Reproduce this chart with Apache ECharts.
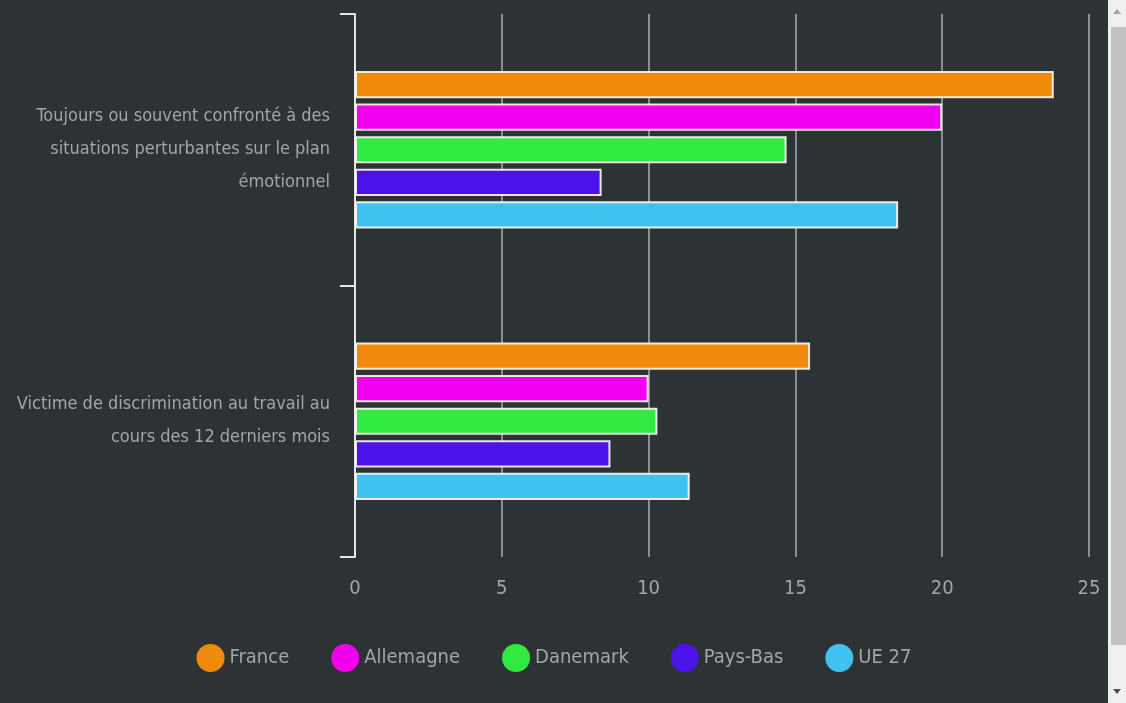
<!DOCTYPE html>
<html>
<head>
<meta charset="utf-8">
<script src="https://cdn.jsdelivr.net/npm/echarts@6/dist/echarts.min.js"></script>
<style>
html,body{margin:0;padding:0;background:#2d3235;overflow:hidden;}
#chart{position:absolute;left:0;top:0;width:1108px;height:703px;}
#sb{position:absolute;left:1108px;top:0;width:18px;height:703px;background:#f0f0f0;}
#thumb{position:absolute;left:3px;top:27px;width:15px;height:618px;background:#c1c1c1;}
.arr{position:absolute;left:5px;width:0;height:0;border-left:4px solid transparent;border-right:4px solid transparent;}
#up{top:9px;border-bottom:5px solid #a3a3a3;}
#down{top:689px;border-top:5px solid #505050;}
</style>
</head>
<body>
<div id="chart"></div>
<div id="sb"><div id="up" class="arr"></div><div id="thumb"></div><div id="down" class="arr"></div></div>
<script>
const categories = [
  "Toujours ou souvent confronté à des\nsituations perturbantes sur le plan\némotionnel",
  "Victime de discrimination au travail au\ncours des 12 derniers mois"
];
const seriesNames = ["France", "Allemagne", "Danemark", "Pays-Bas", "UE 27"];
const france = [23.8, 15.5];
const allemagne = [20.0, 10.0];
const danemark = [14.7, 10.3];
const paysBas = [8.4, 8.7];
const ue27 = [18.5, 11.4];
const xTicks = [0, 5, 10, 15, 20, 25];

const colors = ["#f08a0c", "#f200ee", "#30ea42", "#4c12ea", "#40c2f0"];
const values = [france, allemagne, danemark, paysBas, ue27];
const FONT = "'Liberation Sans Narrow', 'DejaVu Sans Condensed', sans-serif";

const chart = echarts.init(document.getElementById('chart'), null, {renderer: 'canvas'});
chart.setOption({
  backgroundColor: '#2d3235',
  animation: false,
  color: colors,
  grid: {left: 355, right: 19, top: 14, bottom: 146, containLabel: false, outerBoundsMode: 'none'},
  legend: {
    bottom: 26,
    left: 'center',
    icon: 'circle',
    itemWidth: 28,
    itemHeight: 28,
    itemGap: 42,
    itemStyle: {borderWidth: 0},
    textStyle: {color: '#a3a6a8', fontSize: 20, fontFamily: FONT},
    data: seriesNames
  },
  xAxis: {
    type: 'value',
    min: xTicks[0],
    max: xTicks[xTicks.length - 1],
    interval: 5,
    axisLine: {show: false},
    axisTick: {show: false},
    axisLabel: {color: '#a3a6a8', fontSize: 20, fontFamily: FONT, margin: 22},
    splitLine: {show: true, lineStyle: {color: '#a9acae', width: 1.5}}
  },
  yAxis: {
    type: 'category',
    inverse: true,
    data: categories,
    axisLine: {show: true, lineStyle: {color: '#e6e6e6', width: 2}},
    axisTick: {show: true, length: 15, lineStyle: {color: '#e6e6e6', width: 2}},
    axisLabel: {color: '#a3a6a8', fontSize: 18, fontFamily: FONT, margin: 25, lineHeight: 33, align: 'right', padding: [5, 0, 0, 0]}
  },
  series: seriesNames.map((n, i) => ({
    name: n,
    type: 'bar',
    data: values[i],
    barGap: '20%',
    barCategoryGap: '42%',
    itemStyle: {color: colors[i], borderColor: 'rgba(255,250,240,0.9)', borderWidth: 2}
  }))
});
</script>
</body>
</html>
